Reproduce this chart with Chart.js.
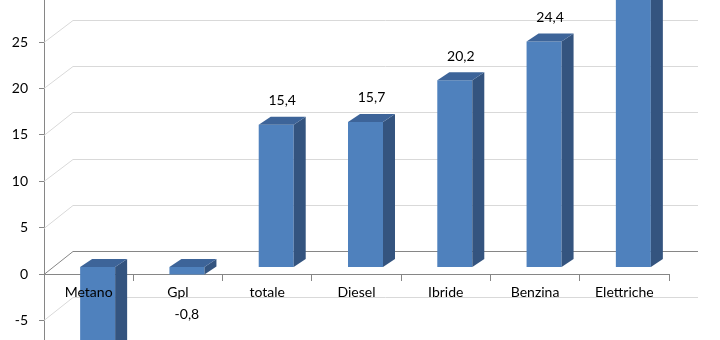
<!DOCTYPE html>
<html>
<head>
<meta charset="utf-8">
<script src="https://cdn.jsdelivr.net/npm/chart.js@4"></script>
<style>
  html, body { margin: 0; padding: 0; background: #fff; }
  #wrap { width: 720px; height: 340px; position: relative; }
</style>
</head>
<body>
<div id="wrap"><canvas id="chart"></canvas></div>
<script>
// Dati (variazione %)
const categories = ['Metano', 'Gpl', 'totale', 'Diesel', 'Ibride', 'Benzina', 'Elettriche'];
const values = [-10.5, -0.8, 15.4, 15.7, 20.2, 24.4, 31.5];
const yTicks = [-5, 0, 5, 10, 15, 20, 25, 30];

// Vista 3D: asse frontale, barre a metà profondità, parete di fondo
const DEPTH_X = 29;      // spostamento parete di fondo
const BAR_SHIFT = 9;     // spostamento barre verso destra
const BAR_DX = 12, BAR_DY = 8;

const FONT = { family: 'Lato, "Open Sans", sans-serif', size: 14 };
const AXIS_GRAY = '#868686';
const GRID_GRAY = '#d9d9d9';

const fmt = v => v.toFixed(1).replace('.', ',');

const wallPlugin = {
    id: 'wall',
    beforeDatasetsDraw(chart) {
        const ctx = chart.ctx;
        const area = chart.chartArea;
        const yF = chart.scales.y, yB = chart.scales.yBack;
        ctx.save();
        ctx.lineWidth = 1;
        // prima le linee chiare, poi la linea dello zero
        const order = yTicks.filter(v => v !== 0).concat([0]);
        order.forEach(v => {
            ctx.strokeStyle = v === 0 ? AXIS_GRAY : GRID_GRAY;
            const f = Math.round(yF.getPixelForValue(v)) + 0.5;
            const b = Math.round(yB.getPixelForValue(v)) + 0.5;
            ctx.beginPath();
            ctx.moveTo(area.left, f);
            ctx.lineTo(area.left + DEPTH_X, b);
            ctx.lineTo(area.right + DEPTH_X, b);
            ctx.stroke();
        });
        ctx.restore();
    },
    beforeDatasetDraw(chart) {
        chart.ctx.save();
        chart.ctx.translate(BAR_SHIFT, 0);
    },
    afterDatasetDraw(chart, args) {
        const ctx = chart.ctx;
        args.meta.data.forEach(bar => {
            const x1 = bar.x - bar.width / 2, x2 = bar.x + bar.width / 2;
            const top = Math.min(bar.y, bar.base), bottom = Math.max(bar.y, bar.base);
            // lato destro
            ctx.fillStyle = '#34547f';
            ctx.beginPath();
            ctx.moveTo(x2, top);
            ctx.lineTo(x2 + BAR_DX, top - BAR_DY);
            ctx.lineTo(x2 + BAR_DX, bottom - BAR_DY);
            ctx.lineTo(x2, bottom);
            ctx.closePath();
            ctx.fill();
            // faccia superiore
            ctx.fillStyle = '#3d6499';
            ctx.beginPath();
            ctx.moveTo(x1, top);
            ctx.lineTo(x1 + BAR_DX, top - BAR_DY);
            ctx.lineTo(x2 + BAR_DX, top - BAR_DY);
            ctx.lineTo(x2, top);
            ctx.closePath();
            ctx.fill();
        });
        ctx.restore();
    },
    afterDatasetsDraw(chart) {
        const ctx = chart.ctx;
        const meta = chart.getDatasetMeta(0);
        ctx.save();
        ctx.font = FONT.size + 'px ' + FONT.family;
        ctx.fillStyle = '#000';
        ctx.textAlign = 'center';
        ctx.textBaseline = 'middle';
        meta.data.forEach((bar, i) => {
            const v = values[i];
            const cx = bar.x + BAR_SHIFT + (v >= 0 ? BAR_DX / 2 : 0);
            const cy = v >= 0 ? bar.y - 24 : bar.y + 40;
            ctx.fillText(fmt(v), cx, cy);
        });
        ctx.restore();
    }
};

const chart = new Chart(document.getElementById('chart'), {
    type: 'bar',
    data: {
        labels: categories,
        datasets: [{
            data: values,
            yAxisID: 'yBar',
            backgroundColor: '#4f81bd',
            borderWidth: 0,
            barPercentage: 0.392,
            categoryPercentage: 1.0
        }]
    },
    options: {
        responsive: true,
        maintainAspectRatio: false,
        animation: false,
        layout: { padding: { left: 0, right: 51, top: 0, bottom: 0 } },
        plugins: {
            legend: { display: false },
            tooltip: { enabled: false }
        },
        scales: {
            x: {
                position: { y: 0 },
                offset: true,
                grid: { offset: true, drawOnChartArea: false, drawTicks: true, tickLength: 6, color: AXIS_GRAY },
                border: { color: AXIS_GRAY },
                ticks: { color: '#000', font: FONT, padding: 4, maxRotation: 0, z: 1 },
                afterFit(s) { s.paddingLeft = 0; s.paddingRight = 0; }
            },
            y: {
                position: 'left',
                min: -7.112,
                max: 29.526,
                afterBuildTicks(s) { s.ticks = yTicks.map(v => ({ value: v })); },
                afterFit(s) { s.width = 44; s.paddingTop = 0; s.paddingBottom = 0; },
                grid: { drawOnChartArea: false, tickLength: 5, color: AXIS_GRAY },
                border: { color: AXIS_GRAY },
                ticks: { color: '#000', font: FONT, padding: 11 }
            },
            yBar: { display: false, min: -7.900, max: 28.896 },
            yBack: { display: false, min: -9.632, max: 27.165 }
        }
    },
    plugins: [wallPlugin]
});
</script>
</body>
</html>
